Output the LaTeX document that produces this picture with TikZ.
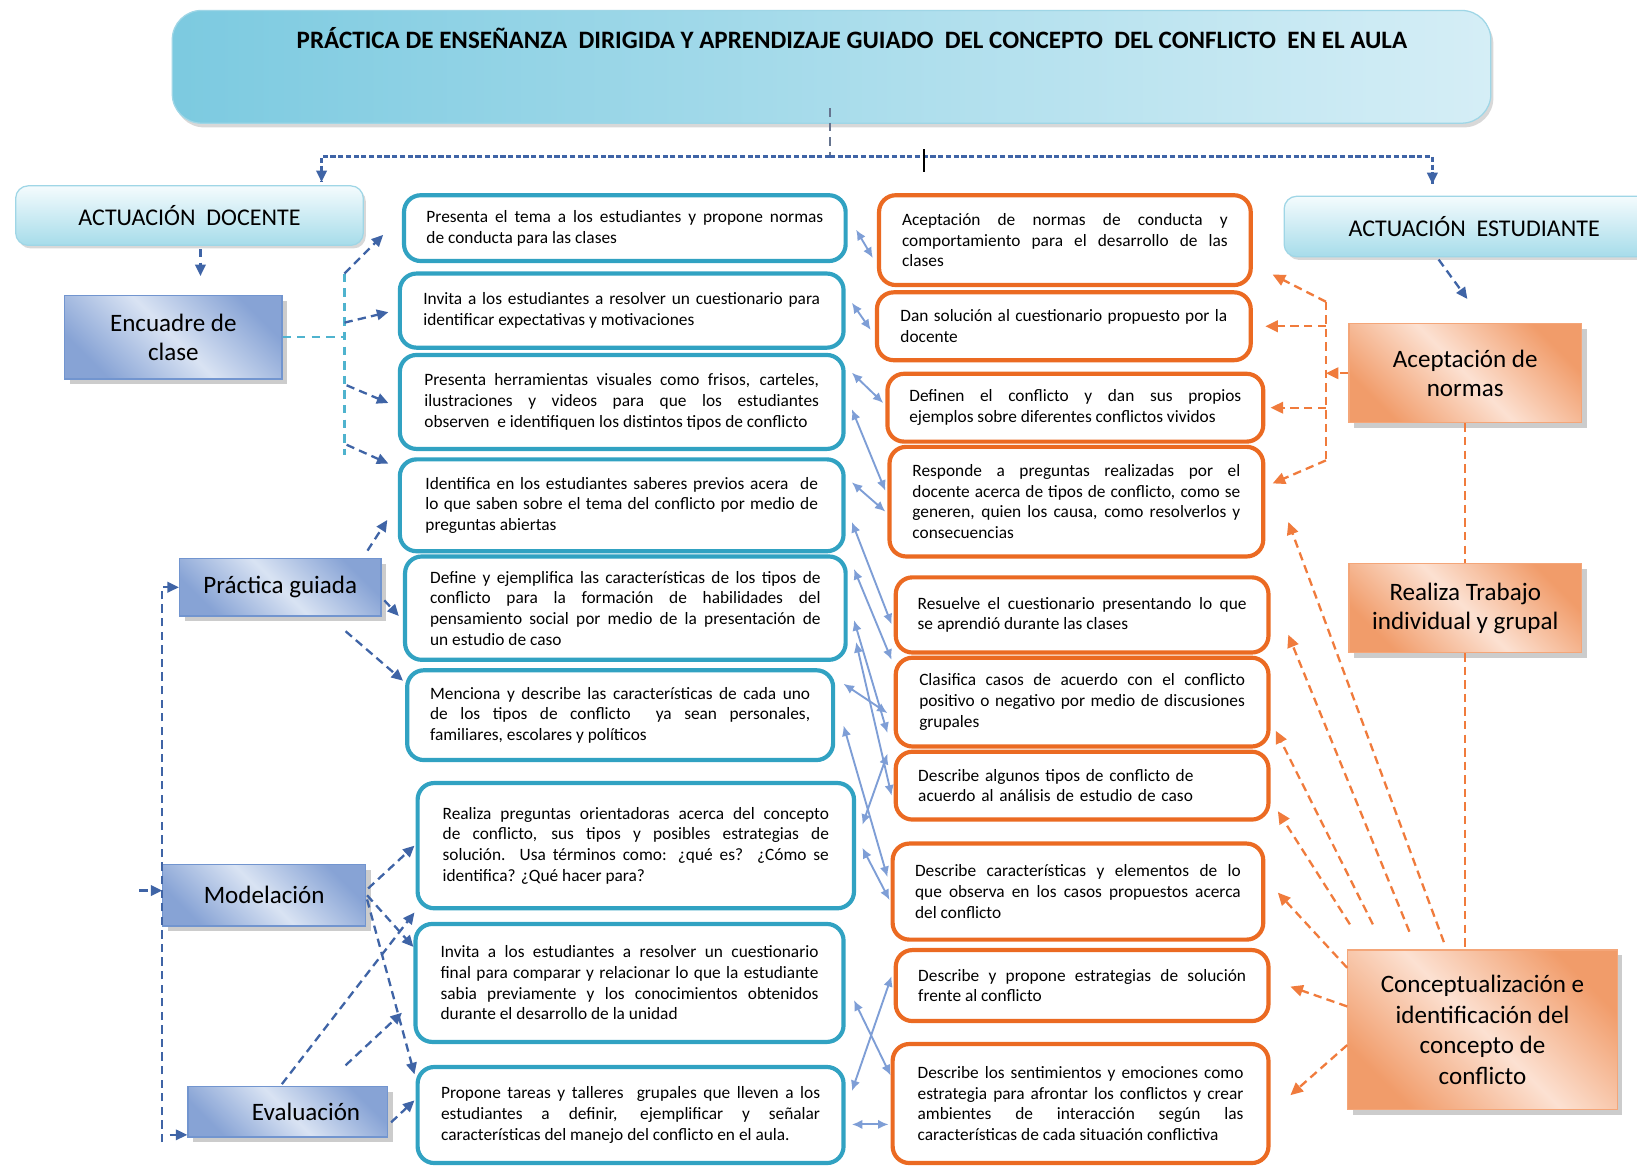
\documentclass[tikz,border=0pt]{standalone}
\usepackage{fontspec}
\setmainfont{Carlito}
\usetikzlibrary{calc,arrows.meta,shadows}
\definecolor{tealB}{HTML}{31A2C2}
\definecolor{oranB}{HTML}{EB6A22}
\definecolor{dblue}{HTML}{3F64A6}
\definecolor{cyanD}{HTML}{4FB3CE}
\definecolor{oranD}{HTML}{F07B3C}
\definecolor{lblue}{HTML}{7E9ED6}
\definecolor{boxBD}{HTML}{87A3D5}
\definecolor{boxBL}{HTML}{D9E3F3}
\definecolor{boxBE}{HTML}{7295CF}
\definecolor{boxOD}{HTML}{F19C6A}
\definecolor{boxOL}{HTML}{FCE1D2}
\definecolor{boxOE}{HTML}{F4A679}
\definecolor{hdrT}{HTML}{F4FBFD}
\definecolor{hdrB}{HTML}{A6DCEA}
\definecolor{hdrE}{HTML}{9FD6E6}
\definecolor{titD}{HTML}{7CCAE0}
\definecolor{titL}{HTML}{D5EEF6}
\newcommand\bxf{\fontsize{8.3}{9.9}\selectfont}
\newcommand\hdf{\fontsize{11.5}{13}\selectfont}
\newcommand\lbf{\fontsize{12}{14}\selectfont}
\tolerance=9999 \hbadness=10000 \adjdemerits=0 \hyphenpenalty=10000 \exhyphenpenalty=10000
\begin{document}
\begin{tikzpicture}[x=0.5pt,y=-0.5pt,
  tbox/.style={draw=tealB, line width=2pt, rounded corners=8pt, fill=white, inner sep=0pt, align=justify, font=\bxf},
  sbox/.style={tbox, draw=oranB},
  hdr/.style={draw=hdrE, line width=0.6pt, rounded corners=6pt, top color=hdrT, bottom color=hdrB, inner sep=0pt, font=\hdf, drop shadow={shadow xshift=1.2pt, shadow yshift=-1.5pt, opacity=0.3}},
  bbox/.style={draw=boxBE, line width=0.6pt, top color=boxBD, bottom color=boxBD, middle color=boxBL, shading angle=-45, inner sep=0pt, align=center, font=\lbf, drop shadow={shadow xshift=2.5pt, shadow yshift=-2.5pt, opacity=0.4}},
  obox/.style={bbox, draw=boxOE, top color=boxOD, bottom color=boxOD, middle color=boxOL, shading angle=-45},
  adash/.style={draw=dblue, line width=1.1pt, dash pattern=on 4pt off 2.5pt, -{Triangle[length=5.5pt,width=5pt]}},
  hline/.style={draw=dblue, line width=1.2pt, dash pattern=on 2.5pt off 1.2pt},
  gline/.style={draw=gray!60!dblue, line width=1pt, dash pattern=on 4pt off 3pt},
  cdash/.style={draw=cyanD, line width=1.2pt, dash pattern=on 4pt off 3pt},
  odash/.style={draw=oranD, line width=1.1pt, dash pattern=on 4pt off 2.5pt},
  oarr/.style={odash, -{Triangle[length=6pt,width=5.5pt]}},
  darr/.style={draw=lblue, line width=0.9pt, {Latex[length=5pt,width=4.5pt]}-{Latex[length=5pt,width=4.5pt]}}
]
\useasboundingbox (0,0) rectangle (1568,1116);
\begin{scope}
\clip (0,0) rectangle (1568,1116);
\fill[white] (0,0) rectangle (1568,1116);

% ---------- header boxes ----------
\node[draw=hdrE, line width=0.6pt, rounded corners=14pt, left color=titD, right color=titL, minimum width=631.5pt, minimum height=54pt, drop shadow={shadow xshift=1.2pt, shadow yshift=-2pt, opacity=0.3}] (title) at (796.5,64) {};
\node[font=\fontsize{12}{14}\selectfont\bfseries] (titletext) at (816,36) {PRÁCTICA DE ENSEÑANZA~ DIRIGIDA Y APRENDIZAJE GUIADO~ DEL CONCEPTO~ DEL CONFLICTO~ EN EL AULA};
\node[hdr, minimum width=166.5pt, minimum height=28.5pt] (AD) at (181.5,206.5) {ACTUACIÓN~ DOCENTE};
\node[hdr, minimum width=182pt, minimum height=29pt] (AE) at (1412,217) {ACTUACIÓN~ ESTUDIANTE};

% ---------- blue / orange labels ----------
\node[bbox, minimum width=104pt, minimum height=40pt] (Enc) at (166,323) {Encuadre de\\clase};
\node[bbox, minimum width=96.5pt, minimum height=27.5pt] (Pr) at (268.5,562.5) {Práctica guiada};
\node[bbox, minimum width=97pt, minimum height=29.5pt] (Mod) at (253,857.5) {Modelación};
\node[bbox, minimum width=95.5pt, minimum height=24pt, text width=69.5pt, align=right] (Ev) at (275.5,1065) {Evaluación};
\node[obox, minimum width=111.5pt, minimum height=47.5pt] (AN) at (1403.5,357.5) {Aceptación de\\normas};
\node[obox, minimum width=111.5pt, minimum height=42.5pt] (RT) at (1403.5,582.5) {Realiza Trabajo\\individual y grupal};
\node[obox, minimum width=129pt, minimum height=76.5pt, font=\fontsize{12}{14.7}\selectfont] (CI) at (1420,986.5) {Conceptualización e\\identificación del\\concepto de\\conflicto};

% ---------- teacher boxes ----------
\node[tbox, minimum width=211.5pt, minimum height=31.5pt, text width=190pt] (T1) at (598.5,218.5) {Presenta el tema a los estudiantes y propone normas\linebreak de conducta para las clases};
\node[tbox, minimum width=212.5pt, minimum height=35.5pt, text width=190pt] (T2) at (595.5,297.5) {Invita a los estudiantes a resolver un cuestionario para\linebreak identificar expectativas y motivaciones};
\node[tbox, minimum width=212.5pt, minimum height=45pt, text width=189pt] (T3) at (595.5,385) {\parfillskip=0pt Presenta herramientas visuales como frisos, carteles,\linebreak ilustraciones y videos para que los estudiantes\linebreak observen~ e identifiquen los distintos tipos de conflicto};
\node[tbox, minimum width=212.5pt, minimum height=44pt, text width=188pt] (T4) at (595.5,484) {Identifica en los estudiantes saberes previos acera~ de\linebreak lo que saben sobre el tema del conflicto por medio de\linebreak preguntas abiertas};
\node[tbox, minimum width=211pt, minimum height=49.5pt, text width=187pt] (T5) at (599,582.5) {Define y ejemplifica las características de los tipos de\linebreak conflicto para la formación de habilidades del\linebreak pensamiento social por medio de la presentación de\linebreak un estudio de caso};
\node[tbox, minimum width=204pt, minimum height=43pt, text width=182pt] (T6) at (594,685) {Menciona y describe las características de cada uno\linebreak de los tipos de conflicto~ ya sean personales,\linebreak familiares, escolares y políticos};
\node[tbox, minimum width=209pt, minimum height=60pt, text width=185pt] (T7) at (609,810) {Realiza preguntas orientadoras acerca del concepto\linebreak de conflicto, sus tipos y posibles estrategias de\linebreak solución. Usa términos como: ¿qué es? ¿Cómo se\linebreak identifica? ¿Qué hacer para?};
\node[tbox, minimum width=205pt, minimum height=56.5pt, text width=181pt] (T8) at (603,941.5) {Invita a los estudiantes a resolver un cuestionario\linebreak final para comparar y relacionar lo que la estudiante\linebreak sabia previamente y los conocimientos obtenidos\linebreak durante el desarrollo de la unidad};
\node[tbox, minimum width=204pt, minimum height=46pt, text width=181.5pt] (T9) at (604,1068) {Propone tareas y talleres~ grupales que lleven a los\linebreak estudiantes a definir, ejemplificar y señalar\linebreak características del manejo del conflicto en el aula.};

% ---------- student boxes ----------
\node[sbox, minimum width=178pt, minimum height=43pt, text width=156pt] (S1) at (1020,230) {Aceptación de normas de conducta y\linebreak comportamiento para el desarrollo de las\linebreak clases};
\node[sbox, minimum width=179pt, minimum height=32.5pt, text width=156.5pt] (S2) at (1019,312.5) {Dan solución al cuestionario propuesto por la\linebreak docente};
\node[sbox, minimum width=180pt, minimum height=32.5pt, text width=159pt] (S3) at (1030,390.5) {\parfillskip=0pt Definen el conflicto y dan sus propios\linebreak ejemplos sobre diferentes conflictos vividos};
\node[sbox, minimum width=179pt, minimum height=52.5pt, text width=157pt] (S4) at (1031,480.5) {Responde a preguntas realizadas por el\linebreak docente acerca de tipos de conflicto, como se\linebreak generen, quien los causa, como resolverlos y\linebreak consecuencias};
\node[sbox, minimum width=178.5pt, minimum height=36pt, text width=157.5pt] (S5) at (1036.5,589) {Resuelve el cuestionario presentando lo que\linebreak se aprendió durante las clases};
\node[sbox, minimum width=178.5pt, minimum height=42.5pt, text width=156pt] (S6) at (1036.5,672.5) {Clasifica casos de acuerdo con el conflicto\linebreak positivo o negativo por medio de discusiones\linebreak grupales};
\node[sbox, minimum width=178.5pt, minimum height=32.5pt, text width=157pt, align=left] (S7) at (1036.5,752.5) {Describe algunos tipos de conflicto de\\acuerdo al análisis de estudio de caso};
\node[sbox, minimum width=177.5pt, minimum height=46pt, text width=156pt] (S8) at (1032.5,854) {Describe características y elementos de lo\linebreak que observa en los casos propuestos acerca\linebreak del conflicto};
\node[sbox, minimum width=178.5pt, minimum height=34pt, text width=157pt] (S9) at (1036.5,944) {Describe y propone estrategias de solución\linebreak frente al conflicto};
\node[sbox, minimum width=180pt, minimum height=57pt, text width=156pt] (S10) at (1035,1057) {Describe los sentimientos y emociones como\linebreak estrategia para afrontar los conflictos y crear\linebreak ambientes de interacción según las\linebreak características de cada situación conflictiva};

% ---------- top connectors ----------
\coordinate (hub) at (795,150);
\draw[gline] ($(title.south)+(-1.5,-15)$) -- (hub);
\draw[hline] (hub) -| ($(AD.north)+(126.5,-3)$);
\draw[hline] (hub) -| ($(AE.north)+(-40,-11)$);
\draw[adash, dash pattern=on 0pt off 100pt] ($(AD.north)+(126.5,-10)$) -- ($(AD.north)+(126.5,-3)$);
\draw[adash, dash pattern=on 0pt off 100pt] ($(AE.north)+(-40,-18)$) -- ($(AE.north)+(-40,-11)$);
\coordinate (tick) at (885,143);
\draw[black, line width=1.3pt] (tick) -- ++(0,22);
\draw[adash] ($(AD.south)+(10.5,3)$) -- ($(Enc.north)+(26,-18)$);
\draw[adash] ($(AE.south)+(-34,2)$) -- ($(AN.north)+(2,-23)$);

% ---------- encuadre connectors ----------
\coordinate (cvt) at (330,262);
\coordinate (cvb) at (330,436);
\draw[cdash] (Enc.east) -- (Enc.east -| cvt);
\draw[cdash] (cvt) -- (cvb);
\draw[adash] (cvt) -- ($(T1.west)+(-18,6.5)$);
\draw[adash] ($(cvt)+(0,47)$) -- ($(T2.west)+(-9,1.5)$);
\draw[adash] ($(cvt)+(2,107)$) -- ($(T3.west)+(-9,1)$);
\draw[adash] ($(cvb)+(2,-10)$) -- ($(T4.west)+(-9,-40)$);

% ---------- práctica guiada ----------
\draw[adash] ($(Pr.north)+(83.5,-7)$) -- ($(T4.west)+(-10,14)$);
\draw[adash] ($(Pr.east)+(2.5,12.5)$) -- ($(T5.west)+(-4,7.5)$);
\draw[adash] ($(Pr.south)+(62.5,14)$) -- ($(T6.west)+(-2,-33)$);
\coordinate (lvb) at (155,1094);
\draw[adash] (lvb) |- (Pr.west);
\draw[adash] ($(Mod.west)+(-22,-4.5)$) -- ($(Mod.west)+(0,-4.5)$);
\draw[adash] ($(Ev.west)+(-17,22)$) -- ($(Ev.west)+(0,22)$);

% ---------- modelación / evaluación ----------
\draw[adash] ($(Mod.east)+(2,-6.5)$) -- ($(T7.west)+(-1,0)$);
\draw[adash] ($(Mod.east)+(1,0)$) -- ($(T8.west)+(0,-34.5)$);
\draw[adash] ($(Mod.east)+(1,4)$) -- ($(T9.west)+(-1,-39)$);
\draw[adash] ($(Ev.north)+(-5.5,-2)$) -- ($(T7.south west)+(-1,2)$);
\draw[adash] ($(Ev.north)+(55.5,-20)$) -- ($(T8.west)+(-11,28.5)$);
\draw[adash] ($(Ev.east)+(3,10)$) -- ($(T9.west)+(-1,-14)$);

% ---------- teacher <-> student ----------
\draw[darr] ($(T1.east)+(8,1.5)$) -- ($(S1.west)+(-4,17)$);
\draw[darr] ($(T2.east)+(6,-7.5)$) -- ($(S2.west)+(-4,3.5)$);
\draw[darr] ($(T3.east)+(6,-28)$) -- ($(S3.west)+(-2,-4.5)$);
\draw[darr] ($(T3.east)+(6,7)$) -- ($(S4.west)+(-2,-10.5)$);
\draw[darr] ($(T4.east)+(6,-22)$) -- ($(S4.west)+(-2,9.5)$);
\draw[darr] ($(T4.east)+(6,16)$) -- ($(S5.west)+(-2,9)$);
\draw[darr] ($(T5.east)+(6,-37.5)$) -- ($(S6.west)+(-2,-40.5)$);
\draw[darr] ($(T5.east)+(6,11.5)$) -- ($(S6.west)+(-6,29.5)$);
\draw[darr] ($(T5.east)+(8,32.5)$) -- ($(S7.west)+(-2,9.5)$);
\draw[darr] ($(T6.east)+(8,-30)$) -- ($(S6.west)+(-6,10.5)$);
\draw[darr] ($(T6.east)+(8,10)$) -- ($(S8.west)+(-3,-14)$);
\draw[darr] ($(T7.east)+(6,-20)$) -- ($(S7.west)+(-6,-30.5)$);
\draw[darr] ($(T7.east)+(6,2)$) -- ($(S8.west)+(-1,8)$);
\draw[darr] ($(T8.east)+(8,16.5)$) -- ($(S10.west)+(0,-27)$);
\draw[darr] ($(T9.east)+(6,-23)$) -- ($(S9.west)+(-2,-9)$);
\draw[darr] ($(T9.east)+(6,9)$) -- ($(S10.west)+(-2,20)$);

% ---------- student side (orange) ----------
\coordinate (ovt) at (1270,289);
\coordinate (ovb) at (1270,441);
\draw[odash] (ovt) -- (ovb);
\draw[oarr] (AN.west) -- (AN.west -| ovt);
\draw[oarr] (ovt) -- ($(S1.east)+(19,33)$);
\draw[oarr] (ovt |- S2.east) -- ($(S2.east)+(12,0)$);
\draw[oarr] (ovt |- S3.east) -- ($(S3.east)+(5,0)$);
\draw[oarr] (ovb) -- ($(S4.east)+(7,-17.5)$);
\draw[odash] (AN.south) -- (RT.north);
\draw[odash] (RT.south) -- (RT.south |- CI.north);
\draw[oarr] ($(CI.north)+(-37,-7)$) -- ($(S4.east)+(22,19.5)$);
\draw[oarr] ($(CI.north)+(-70,-17)$) -- ($(S5.east)+(17,19)$);
\draw[oarr] ($(CI.north)+(-105,-24)$) -- ($(S6.east)+(5,27.5)$);
\draw[oarr] ($(CI.north)+(-127,-24)$) -- ($(S7.east)+(7,24.5)$);
\draw[oarr] ($(CI.west)+(0,-59.5)$) -- ($(S8.east)+(12,1)$);
\draw[oarr] ($(CI.west)+(0,-22.5)$) -- ($(S9.east)+(19,1)$);
\draw[oarr] ($(CI.west)+(0,14.5)$) -- ($(S10.east)+(19,-8)$);
\end{scope}
\end{tikzpicture}
\end{document}
